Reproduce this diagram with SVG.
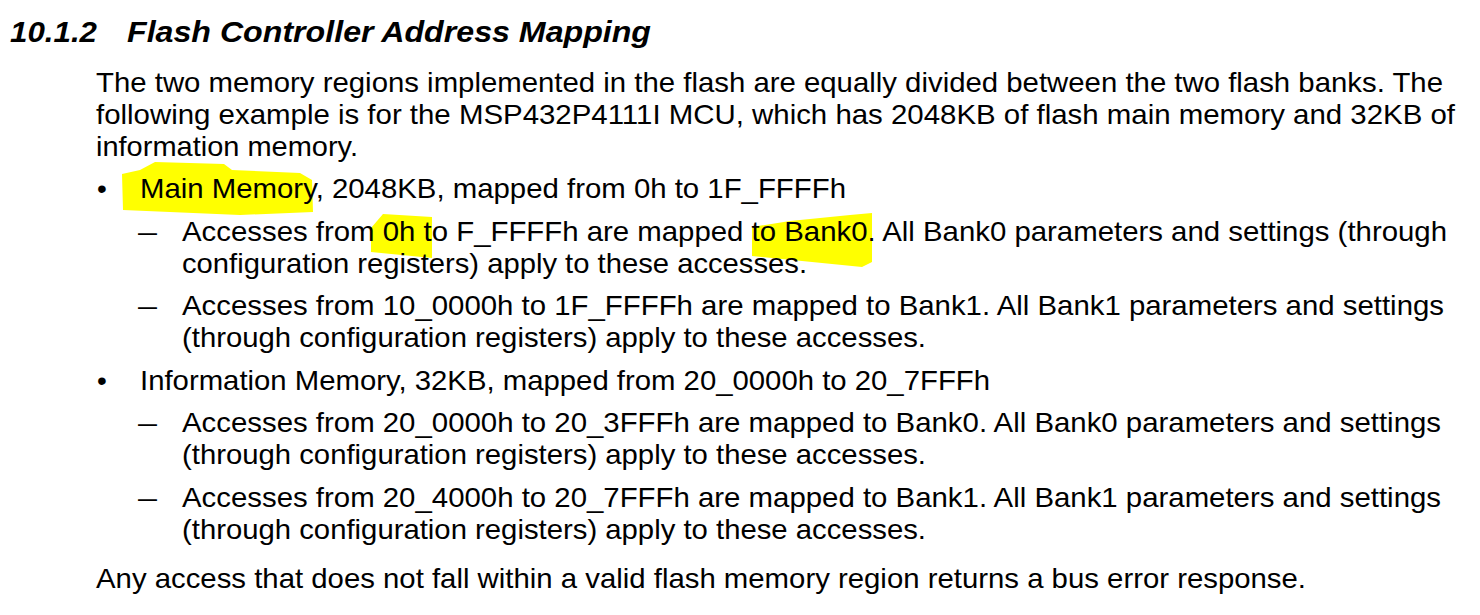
<svg xmlns="http://www.w3.org/2000/svg" width="1480" height="615" viewBox="0 0 1480 615">
<style>
.b{font-family:"Liberation Sans",Arial,sans-serif;font-size:28px;fill:#000}
.h{font-family:"Liberation Sans",Arial,sans-serif;font-size:30px;font-weight:bold;font-style:italic;fill:#000}
.hl{fill:#FFFF00}
</style>
<rect width="1480" height="615" fill="#fff"/>
<g id="highlights">
<path class="hl" d="M122,174 L140,170 L155,162 L224,164 L232,170 L300,173 L312,180 L313,212 L240,215 L123,210 Z"/>
<path class="hl" d="M371,228 L383,214 L432,217 L432,258 L371,252 Z"/>
<path class="hl" d="M752,227 L790,221 L850,215 L872,213 L872,262 L862,267 L752,256 Z"/>
</g>
<g id="heading">
<text class="h" x="10" y="42" textLength="87" lengthAdjust="spacingAndGlyphs">10.1.2</text>
<text class="h" x="127" y="42" textLength="524" lengthAdjust="spacingAndGlyphs">Flash Controller Address Mapping</text>
</g>
<g id="text">
<text class="b" x="96" y="92" textLength="1347" lengthAdjust="spacingAndGlyphs">The two memory regions implemented in the flash are equally divided between the two flash banks. The</text>
<text class="b" x="96" y="124" textLength="1359" lengthAdjust="spacingAndGlyphs">following example is for the MSP432P4111I MCU, which has 2048KB of flash main memory and 32KB of</text>
<text class="b" x="96" y="156" textLength="262" lengthAdjust="spacingAndGlyphs">information memory.</text>
<text class="b" x="97" y="198">•</text>
<text class="b" x="140" y="198" textLength="706" lengthAdjust="spacingAndGlyphs">Main Memory, 2048KB, mapped from 0h to 1F_FFFFh</text>
<text class="b" x="138" y="241" textLength="19" lengthAdjust="spacingAndGlyphs">–</text>
<text class="b" x="182" y="241" textLength="1265" lengthAdjust="spacingAndGlyphs">Accesses from 0h to F_FFFFh are mapped to Bank0. All Bank0 parameters and settings (through</text>
<text class="b" x="182" y="273" textLength="625" lengthAdjust="spacingAndGlyphs">configuration registers) apply to these accesses.</text>
<text class="b" x="138" y="315" textLength="19" lengthAdjust="spacingAndGlyphs">–</text>
<text class="b" x="182" y="315" textLength="1262" lengthAdjust="spacingAndGlyphs">Accesses from 10_0000h to 1F_FFFFh are mapped to Bank1. All Bank1 parameters and settings</text>
<text class="b" x="182" y="347" textLength="744" lengthAdjust="spacingAndGlyphs">(through configuration registers) apply to these accesses.</text>
<text class="b" x="97" y="390">•</text>
<text class="b" x="140" y="390" textLength="850" lengthAdjust="spacingAndGlyphs">Information Memory, 32KB, mapped from 20_0000h to 20_7FFFh</text>
<text class="b" x="138" y="432" textLength="19" lengthAdjust="spacingAndGlyphs">–</text>
<text class="b" x="182" y="432" textLength="1259" lengthAdjust="spacingAndGlyphs">Accesses from 20_0000h to 20_3FFFh are mapped to Bank0. All Bank0 parameters and settings</text>
<text class="b" x="182" y="464" textLength="744" lengthAdjust="spacingAndGlyphs">(through configuration registers) apply to these accesses.</text>
<text class="b" x="138" y="507" textLength="19" lengthAdjust="spacingAndGlyphs">–</text>
<text class="b" x="182" y="507" textLength="1259" lengthAdjust="spacingAndGlyphs">Accesses from 20_4000h to 20_7FFFh are mapped to Bank1. All Bank1 parameters and settings</text>
<text class="b" x="182" y="539" textLength="744" lengthAdjust="spacingAndGlyphs">(through configuration registers) apply to these accesses.</text>
<text class="b" x="96" y="588" textLength="1210" lengthAdjust="spacingAndGlyphs">Any access that does not fall within a valid flash memory region returns a bus error response.</text>
</g>
</svg>
